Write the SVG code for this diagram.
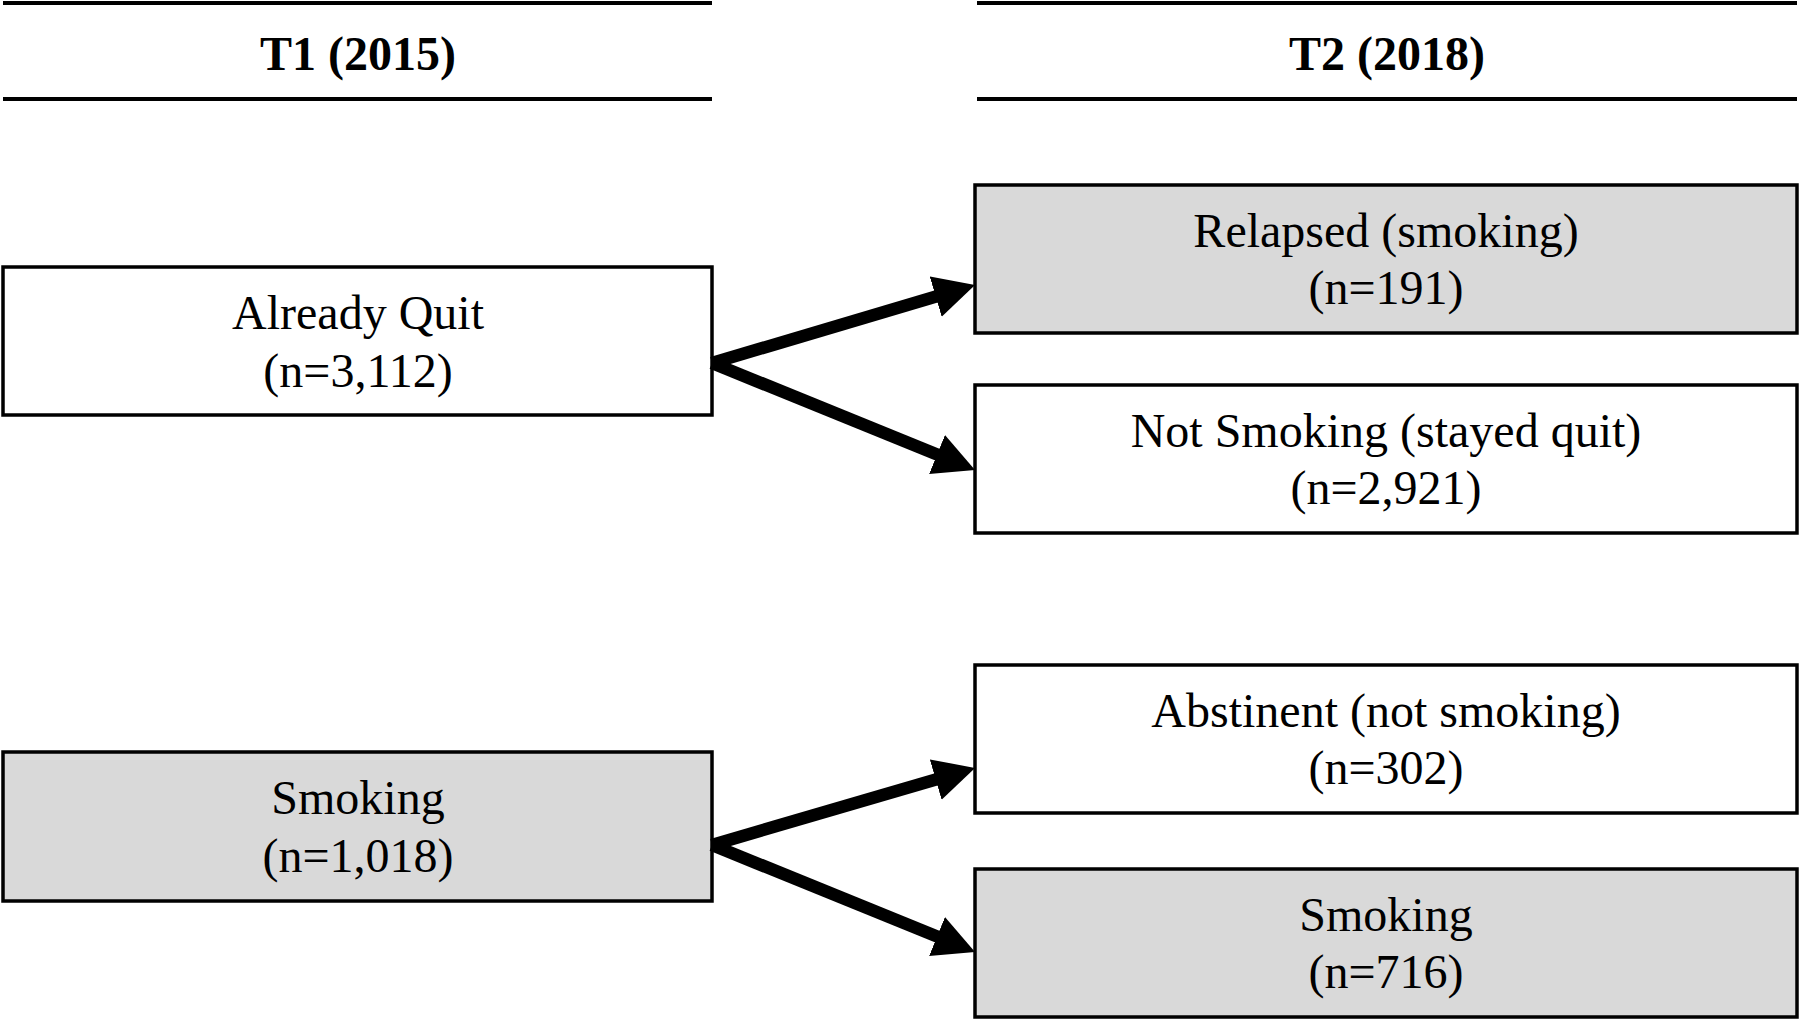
<svg xmlns="http://www.w3.org/2000/svg" width="1800" height="1021" viewBox="0 0 1800 1021">
<style>
text{font-family:"Liberation Serif","Times New Roman",serif;font-size:48px;fill:#000;text-anchor:middle}
.hd{font-weight:bold}
.rule{stroke:#000;stroke-width:4}
.box{stroke:#000;stroke-width:3.5}
.w{fill:#fff}
.g{fill:#d9d9d9}
.arr{stroke:#000;stroke-width:12.5;fill:none}
</style>
<defs>
<marker id="ah" markerUnits="userSpaceOnUse" markerWidth="42" markerHeight="44" viewBox="0 0 42 44" refX="10" refY="22" orient="auto">
<path d="M0,1 L41,22 L0,43 z" fill="#000"/>
</marker>
</defs>
<g id="header-t1">
<line class="rule" x1="3" y1="3" x2="712" y2="3"/>
<line class="rule" x1="3" y1="99" x2="712" y2="99"/>
<text class="hd" x="358" y="70">T1 (2015)</text>
</g>
<g id="header-t2">
<line class="rule" x1="977" y1="3" x2="1797" y2="3"/>
<line class="rule" x1="977" y1="99" x2="1797" y2="99"/>
<text class="hd" x="1387" y="70">T2 (2018)</text>
</g>
<g id="already-quit">
<rect class="box w" x="3" y="267" width="709" height="148"/>
<text x="358" y="329">Already Quit</text>
<text x="358" y="387">(n=3,112)</text>
</g>
<g id="smoking-t1">
<rect class="box g" x="3" y="752" width="709" height="149"/>
<text x="358" y="814">Smoking</text>
<text x="358" y="872">(n=1,018)</text>
</g>
<g id="relapsed">
<rect class="box g" x="975" y="185" width="822" height="148"/>
<text x="1386" y="247">Relapsed (smoking)</text>
<text x="1386" y="304">(n=191)</text>
</g>
<g id="not-smoking">
<rect class="box w" x="975" y="385" width="822" height="148"/>
<text x="1386" y="447">Not Smoking (stayed quit)</text>
<text x="1386" y="504">(n=2,921)</text>
</g>
<g id="abstinent">
<rect class="box w" x="975" y="665" width="822" height="148"/>
<text x="1386" y="727">Abstinent (not smoking)</text>
<text x="1386" y="784">(n=302)</text>
</g>
<g id="smoking-t2">
<rect class="box g" x="975" y="869" width="822" height="148"/>
<text x="1386" y="931">Smoking</text>
<text x="1386" y="988">(n=716)</text>
</g>
<g id="connectors">
<line class="arr" x1="712" y1="363" x2="945.3" y2="293.8" marker-end="url(#ah)"/>
<line class="arr" x1="712" y1="363" x2="946.3" y2="458.3" marker-end="url(#ah)"/>
<line class="arr" x1="712" y1="845" x2="945.3" y2="776.7" marker-end="url(#ah)"/>
<line class="arr" x1="712" y1="845" x2="946.3" y2="940.3" marker-end="url(#ah)"/>
</g>
</svg>
